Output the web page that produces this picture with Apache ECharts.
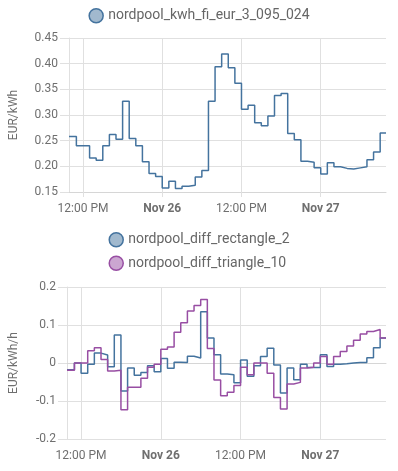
<!DOCTYPE html>
<html>
<head>
<meta charset="utf-8">
<script src="https://cdn.jsdelivr.net/npm/echarts@6/dist/echarts.min.js"></script>
<style>
  html, body { margin: 0; padding: 0; background: #fff; }
  #main { width: 398px; height: 471px; }
</style>
</head>
<body>
<div id="main"></div>
<script>
// hourly prices, first hour = Nov 25 10:00, last hour = Nov 27 09:00
const priceFi = [
  0.258, 0.240, 0.240, 0.216, 0.212, 0.240, 0.262, 0.253, 0.327, 0.254, 0.240, 0.209, 0.186, 0.180,
  0.158, 0.171, 0.157, 0.161, 0.163, 0.179, 0.192, 0.327, 0.394, 0.419, 0.392, 0.362,
  0.311, 0.319, 0.285, 0.279, 0.298, 0.338, 0.342, 0.264, 0.252, 0.210, 0.208, 0.197,
  0.185, 0.207, 0.199, 0.196, 0.195, 0.197, 0.199, 0.213, 0.228, 0.265
];
const diffRectangle = [
  -0.018, 0, -0.027, -0.003, 0.026, 0.021, -0.010, 0.074, -0.074, -0.013, -0.032, -0.025, -0.007, -0.023,
  0.012, -0.014, 0.002, 0.001, 0.018, 0.013, 0.135, 0.066, 0.022, -0.029, -0.031, -0.052,
  0.008, -0.035, -0.007, 0.017, 0.039, -0.005, -0.079, -0.013, -0.044, -0.003, -0.012, -0.012,
  0.022, -0.009, -0.003, -0.002, 0, 0.001, 0.001, 0.014, 0.040, 0.066
];
const diffTriangle = [
  -0.019, 0, 0, 0.032, 0.040, 0.009, -0.021, -0.019, -0.123, -0.064, -0.064, -0.040, -0.011, -0.003,
  0.036, 0.042, 0.081, 0.106, 0.137, 0.151, 0.167, 0.038, -0.045, -0.086, -0.077, -0.059,
  -0.011, -0.031, 0, 0, -0.027, -0.091, -0.121, -0.055, -0.051, -0.013, -0.011, 0,
  0.017, -0.003, 0.017, 0.030, 0.045, 0.060, 0.076, 0.083, 0.088, 0.066
];
const seriesNames = ['nordpool_kwh_fi_eur_3_095_024', 'nordpool_diff_rectangle_2', 'nordpool_diff_triangle_10'];
// x ticks, in hours from Nov 25 00:00
const tickHours = [12, 24, 36, 48];
const tickLabels = ['12:00 PM', '{b|Nov 26}', '12:00 PM', '{b|Nov 27}'];

const colors = ['#44739e', '#44739e', '#984ea3'];
const fills = ['rgba(68,115,158,0.5)', 'rgba(68,115,158,0.5)', 'rgba(152,78,163,0.5)'];

const firstHour = 10;           // Nov 25 10:00
const windowStart = 9 + 53 / 60; // window shown is 48 h
const windowEnd = windowStart + 48;

function toPoints(values) {
  const pts = values.map((v, i) => [i === 0 ? windowStart : firstHour + i, v]);
  pts.push([windowEnd, values[values.length - 1]]);
  return pts;
}

const gridColor = '#e0e0e0';
const textColor = '#6f6f6f';
const font = 'Roboto';

function xAxis(gridIndex) {
  return {
    type: 'value', gridIndex, min: windowStart, max: windowEnd,
    axisLine: { lineStyle: { color: '#d6d6d6' } },
    axisTick: { show: true, length: 5, lineStyle: { color: gridColor }, customValues: tickHours },
    splitLine: { show: true, lineStyle: { color: gridColor } },
    axisLabel: {
      customValues: tickHours, margin: 11, color: textColor, fontFamily: font, fontSize: 12,
      formatter: v => tickLabels[tickHours.indexOf(Math.round(v))] || '',
      rich: { b: { fontWeight: 'bold', color: textColor, fontFamily: font, fontSize: 12 } }
    }
  };
}

function yAxis(gridIndex, name, min, max, interval, digits) {
  return {
    type: 'value', gridIndex, min, max, interval,
    name, nameLocation: 'middle', nameGap: digits === 2 ? 49 : 47,
    nameTextStyle: { color: textColor, fontFamily: font, fontSize: 12 },
    axisLine: { show: true, lineStyle: { color: gridColor } },
    axisTick: { show: true, length: 9, lineStyle: { color: gridColor } },
    splitLine: { lineStyle: { color: gridColor } },
    axisLabel: {
      margin: 11, color: textColor, fontFamily: font, fontSize: 12,
      formatter: v => digits === 2 ? v.toFixed(2) : String(Math.round(v * 10) / 10)
    }
  };
}

function lineSeries(idx, axisIndex, values) {
  return {
    name: seriesNames[idx], type: 'line', step: 'end',
    xAxisIndex: axisIndex, yAxisIndex: axisIndex,
    data: toPoints(values), showSymbol: false, symbol: 'none',
    color: colors[idx],
    lineStyle: { width: 1.5, color: colors[idx] }
  };
}

function legendItem(idx) {
  return { name: seriesNames[idx], icon: 'circle',
    itemStyle: { color: fills[idx], borderColor: colors[idx], borderWidth: 1.5 } };
}

const chart = echarts.init(document.getElementById('main'), null, { renderer: 'canvas' });
chart.setOption({
  animation: false,
  backgroundColor: '#fff',
  textStyle: { fontFamily: font },
  legend: [
    { top: 3, left: 'center', itemWidth: 14, itemHeight: 14, itemGap: 10,
      textStyle: { color: '#666', fontSize: 14, fontFamily: font },
      data: [legendItem(0)] },
    { top: 227, left: 'center', orient: 'vertical', itemWidth: 14, itemHeight: 14, itemGap: 8,
      textStyle: { color: '#666', fontSize: 14, fontFamily: font },
      data: [legendItem(1), legendItem(2)] }
  ],
  grid: [
    { left: 63, right: 12, top: 38, height: 154 },
    { left: 60, right: 12, top: 287, height: 152 }
  ],
  xAxis: [xAxis(0), xAxis(1)],
  yAxis: [
    yAxis(0, 'EUR/kWh', 0.15, 0.45, 0.05, 2),
    yAxis(1, 'EUR/kWh/h', -0.2, 0.2, 0.1, 1)
  ],
  series: [
    lineSeries(0, 0, priceFi),
    lineSeries(1, 1, diffRectangle),
    lineSeries(2, 1, diffTriangle)
  ]
});
</script>
</body>
</html>
